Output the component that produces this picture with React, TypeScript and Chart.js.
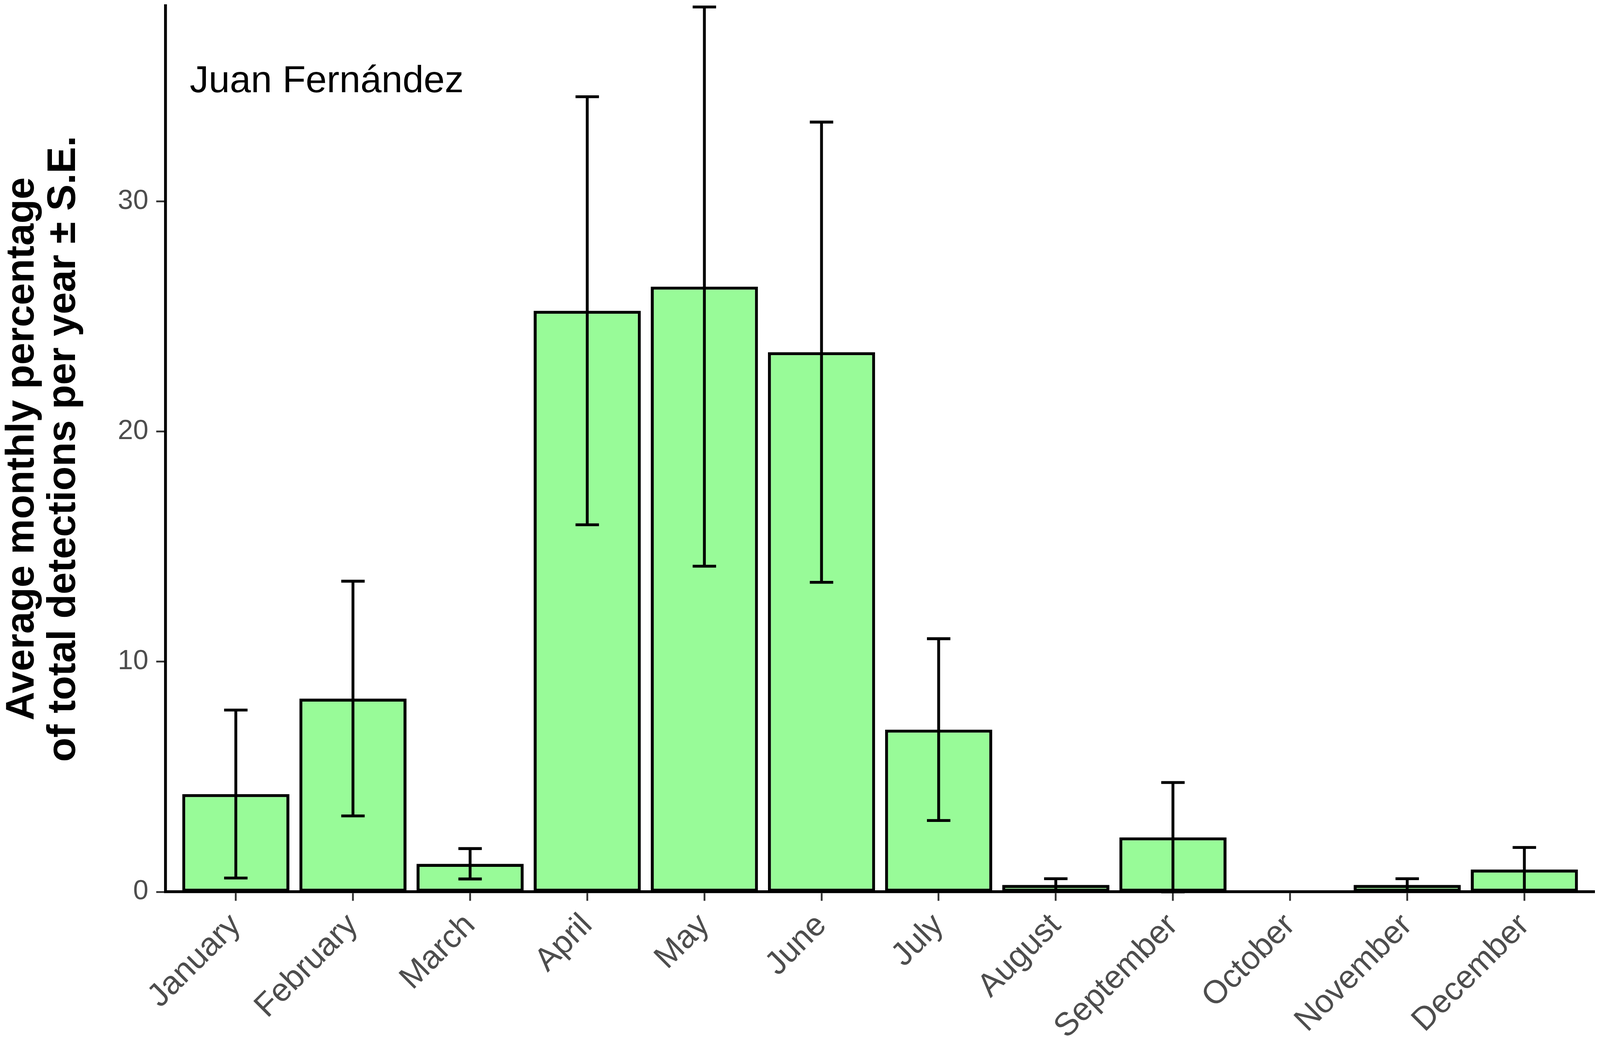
import React, { useEffect, useRef } from 'react';
import { Chart, registerables } from 'chart.js';

Chart.register(...registerables);

const months = [
    'January', 'February', 'March', 'April', 'May', 'June',
    'July', 'August', 'September', 'October', 'November', 'December',
];
const meanPercent = [4.25, 8.4, 1.22, 25.25, 26.3, 23.45, 7.05, 0.3, 2.37, 0, 0.3, 0.97];
const sePercent = [3.65, 5.1, 0.66, 9.3, 12.15, 10.0, 3.95, 0.27, 2.38, 0, 0.27, 0.96];
const yTickValues = [0, 10, 20, 30];
const siteLabel = 'Juan Fernández';
const yTitleLines = ['Average monthly percentage', 'of total detections per year \u00B1 S.E.'];

const FONT = '"Liberation Sans", Arial, Helvetica, sans-serif';
// the layout below was measured on a 4475 x 2716 picture
const BASE_W = 4475;
const BASE_H = 2716;

const MonthlyDetectionsChart: React.FC = () => {
    const wrapRef = useRef<HTMLDivElement | null>(null);
    const canvasRef = useRef<HTMLCanvasElement | null>(null);

    useEffect(() => {
        if (!canvasRef.current || !wrapRef.current) return;
        const ctx = canvasRef.current.getContext('2d');
        if (!ctx) return;

        const box = wrapRef.current.getBoundingClientRect();
        const sx = box.width / BASE_W;
        const sy = box.height / BASE_H;
        const s = sx;

        // error bars (mean ± SE, lower end clipped at zero)
        const errorBarPlugin = {
            id: 'errorBars',
            afterDatasetsDraw(chart: any) {
                const { ctx, scales: { x, y } } = chart;
                ctx.save();
                ctx.strokeStyle = '#000000';
                ctx.lineWidth = 8 * s;
                ctx.lineCap = 'butt';
                meanPercent.forEach((m, i) => {
                    const se = sePercent[i];
                    if (!se) return;
                    const cx = x.getPixelForValue(i + 1);
                    const half = x.getPixelForValue(i + 1.1) - cx;
                    const top = y.getPixelForValue(m + se);
                    const bottom = y.getPixelForValue(Math.max(0, m - se));
                    ctx.beginPath();
                    ctx.moveTo(cx, top);
                    ctx.lineTo(cx, bottom);
                    ctx.moveTo(cx - half, top);
                    ctx.lineTo(cx + half, top);
                    ctx.moveTo(cx - half, bottom);
                    ctx.lineTo(cx + half, bottom);
                    ctx.stroke();
                });
                ctx.restore();
            },
        };

        // site name inside the panel
        const siteLabelPlugin = {
            id: 'siteLabel',
            afterDraw(chart: any) {
                const { ctx, scales: { x, y } } = chart;
                ctx.save();
                ctx.font = `${106 * s}px ${FONT}`;
                ctx.fillStyle = '#000000';
                ctx.textAlign = 'left';
                ctx.textBaseline = 'alphabetic';
                ctx.fillText(siteLabel, x.getPixelForValue(0.607), y.getPixelForValue(34.75));
                ctx.restore();
            },
        };

        const chart = new Chart(ctx, {
            type: 'bar',
            data: {
                datasets: [{
                    data: months.map((_, i) => ({ x: i + 1, y: meanPercent[i] })),
                    backgroundColor: '#98FB98',
                    borderColor: '#000000',
                    borderWidth: 8.5 * s,
                    borderSkipped: false,
                    barPercentage: 0.915,
                    categoryPercentage: 1,
                }],
            },
            options: {
                animation: false,
                responsive: true,
                maintainAspectRatio: false,
                layout: { padding: { top: 15 * sy, right: 15 * sx, left: 0, bottom: 0 } },
                plugins: {
                    legend: { display: false },
                    tooltip: { enabled: false },
                },
                scales: {
                    x: {
                        type: 'linear',
                        min: 0.4,
                        max: 12.6,
                        offset: false,
                        bounds: 'data',
                        afterBuildTicks: (scale: any) => {
                            scale.ticks = months.map((_, i) => ({ value: i + 1 }));
                        },
                        afterFit: (scale: any) => {
                            scale.height = 433 * sy;
                            scale.paddingLeft = 0;
                            scale.paddingRight = 0;
                        },
                        grid: {
                            offset: false,
                            drawOnChartArea: false,
                            drawTicks: true,
                            tickLength: 25 * s,
                            tickWidth: 5 * s,
                            tickColor: '#333333',
                        },
                        border: { display: true, color: '#000000', width: 8 * s },
                        ticks: {
                            autoSkip: false,
                            maxRotation: 45,
                            minRotation: 45,
                            padding: 16 * s,
                            color: '#4D4D4D',
                            font: { family: FONT, size: 91 * s },
                            callback: (value: any) => months[Number(value) - 1] ?? '',
                        },
                    },
                    y: {
                        min: 0,
                        max: 38.5,
                        afterBuildTicks: (scale: any) => {
                            scale.ticks = yTickValues.map(v => ({ value: v }));
                        },
                        afterFit: (scale: any) => {
                            scale.width = 463 * sx;
                            scale.paddingTop = 0;
                            scale.paddingBottom = 0;
                        },
                        grid: {
                            drawOnChartArea: false,
                            drawTicks: true,
                            tickLength: 26 * s,
                            tickWidth: 5 * s,
                            tickColor: '#333333',
                        },
                        border: { display: true, color: '#000000', width: 8 * s },
                        ticks: {
                            padding: 22 * s,
                            color: '#4D4D4D',
                            font: { family: FONT, size: 77 * s },
                        },
                        title: {
                            display: true,
                            text: yTitleLines,
                            color: '#000000',
                            padding: { top: 5 * s, bottom: 0 },
                            font: { family: FONT, size: 111 * s, weight: 'bold', lineHeight: `${116 * s}px` },
                        },
                    },
                },
            },
            plugins: [errorBarPlugin, siteLabelPlugin],
        } as any);

        return () => {
            chart.destroy();
        };
    }, []);

    return (
        <div
            ref={wrapRef}
            style={{ position: 'fixed', left: 0, top: 0, width: '100vw', height: '100vh', background: '#ffffff' }}
        >
            <canvas ref={canvasRef} />
        </div>
    );
};

export default function App() {
    return <MonthlyDetectionsChart />;
}
